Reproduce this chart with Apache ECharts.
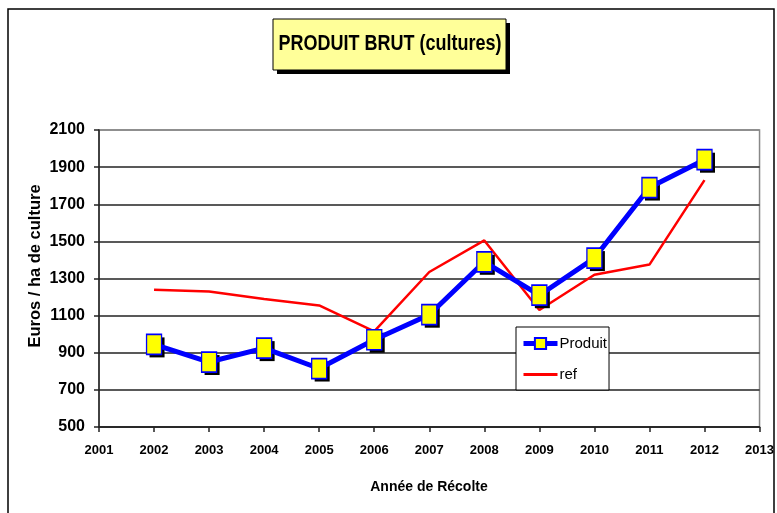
<!DOCTYPE html>
<html>
<head>
<meta charset="utf-8">
<script src="https://cdn.jsdelivr.net/npm/echarts@6/dist/echarts.min.js"></script>
<style>
html,body{margin:0;padding:0;background:#fff;}
#chart{width:777px;height:513px;}
</style>
</head>
<body>
<div id="chart"></div>
<script>
var years = [2002, 2003, 2004, 2005, 2006, 2007, 2008, 2009, 2010, 2011, 2012];
var produit = [945, 850, 925, 815, 970, 1105, 1390, 1210, 1410, 1790, 1940];
var ref = [1240, 1230, 1190, 1155, 1015, 1335, 1505, 1130, 1320, 1375, 1830];
var titleText = 'PRODUIT BRUT (cultures)';
var xName = 'Année de Récolte';
var yName = 'Euros / ha de culture';
var seriesNames = ['Produit', 'ref'];

function pairs(xs, ys) { return xs.map(function (x, i) { return [x, ys[i]]; }); }

var chart = echarts.init(document.getElementById('chart'), null, {renderer: 'canvas'});
var gridColors = ['#222','#222','#222','#222','#222','#222','#222','#222','#888'];
chart.setOption({
  animation: false,
  backgroundColor: '#fff',
  textStyle: {fontFamily: 'Liberation Sans, Arial, sans-serif'},
  grid: {left: 99, right: 17, top: 130, bottom: 86, show: true, borderColor: '#888', borderWidth: 1.5, backgroundColor: 'transparent'},
  xAxis: {
    type: 'value', min: 2001, max: 2013, interval: 1,
    axisLine: {show: true, onZero: false, lineStyle: {color: '#222', width: 1.5}},
    axisTick: {show: true, length: 5, lineStyle: {color: '#222', width: 1.5}},
    axisLabel: {margin: 17, fontSize: 13, fontWeight: 'bold', color: '#000', formatter: function (v) { return String(v); }},
    splitLine: {show: false}
  },
  yAxis: {
    type: 'value', min: 500, max: 2100, interval: 200,
    axisLine: {show: true, lineStyle: {color: '#222', width: 1.5}},
    axisTick: {show: true, length: 5, lineStyle: {color: '#222', width: 1.5}},
    axisLabel: {margin: 14, fontSize: 16, fontWeight: 'bold', color: '#000', formatter: function (v) { return String(v); }},
    splitLine: {show: true, lineStyle: {color: gridColors, width: 1.5}}
  },
  legend: {
    data: [
      {name: 'Produit', lineStyle: {width: 5, color: '#0000ff'}},
      {name: 'ref', icon: 'path://M0,0 L33,0 L33,3 L0,3 Z', itemStyle: {color: '#ff0000'}}
    ],
    orient: 'vertical',
    left: 516, top: 327,
    padding: [9, 2, 8, 5],
    itemGap: 16,
    itemWidth: 34, itemHeight: 14,
    backgroundColor: '#fff',
    borderColor: '#000', borderWidth: 1,
    textStyle: {fontSize: 15, color: '#000', padding: [0, 0, 0, -3]}
  },
  graphic: [
    {type: 'rect', shape: {x: 8, y: 9, width: 766, height: 520}, style: {fill: 'none', stroke: '#000', lineWidth: 1.5}, z: 100},
    {type: 'rect', shape: {x: 277, y: 23, width: 233, height: 51}, style: {fill: '#000'}, z: 100},
    {type: 'rect', shape: {x: 273, y: 19, width: 233, height: 51}, style: {fill: '#ffff99', stroke: '#000', lineWidth: 1}, z: 101},
    {type: 'text', x: 390, y: 44, z: 102, style: {text: titleText, font: 'bold 18px "Liberation Sans", Arial, sans-serif', fill: '#000', align: 'center', verticalAlign: 'middle'}, scaleY: 1.2},
    {type: 'text', x: 429, y: 487, z: 102, style: {text: xName, font: 'bold 14px "Liberation Sans", Arial, sans-serif', fill: '#000', align: 'center', verticalAlign: 'middle'}},
    {type: 'text', x: 35, y: 266, rotation: Math.PI / 2, z: 102, style: {text: yName, font: 'bold 16.5px "Liberation Sans", Arial, sans-serif', fill: '#000', align: 'center', verticalAlign: 'middle'}}
  ],
  series: [
    {
      name: 'ref', type: 'line', z: 2,
      data: pairs(years, ref),
      symbol: 'none',
      lineStyle: {color: '#ff0000', width: 2.5},
      itemStyle: {color: '#ff0000'}
    },
    {
      name: 'shadow', type: 'line', z: 3, silent: true,
      data: pairs(years, produit),
      symbol: 'rect', symbolSize: [15, 20], symbolOffset: [3, 3],
      lineStyle: {width: 0, opacity: 0},
      itemStyle: {color: '#000', borderWidth: 0}
    },
    {
      name: 'Produit', type: 'line', z: 4,
      data: pairs(years, produit),
      symbol: 'rect', symbolSize: [15, 20],
      lineStyle: {color: '#0000ff', width: 5},
      itemStyle: {color: '#ffff00', borderColor: '#0000ff', borderWidth: 1.5}
    }
  ]
});
</script>
</body>
</html>
